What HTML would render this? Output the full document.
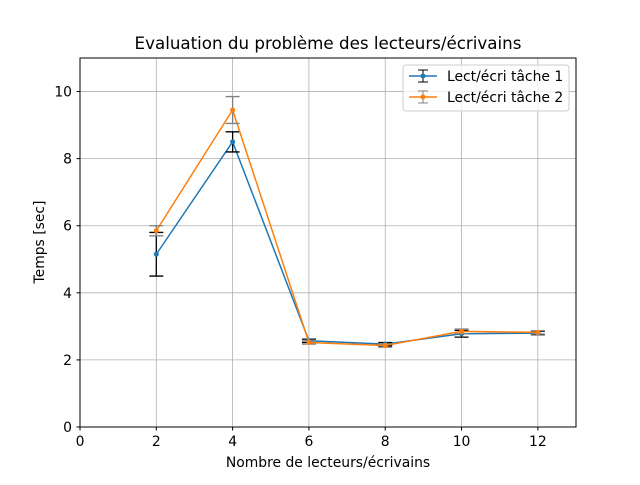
<!DOCTYPE html>
<html><head><meta charset="utf-8"><style>
body{margin:0;background:#fff;}
svg{font-family:"DejaVu Sans","Liberation Sans",sans-serif;}
</style></head><body>
<svg id="chart" width="640" height="480">
<rect width="640" height="480" fill="#fff"/>
<g id="grid"></g>
<g id="marks"></g>
<rect x="80" y="58" width="496" height="369" fill="none" stroke="#000" stroke-width="1"/>
<g id="ticks"></g>
<text x="328" y="49" text-anchor="middle" font-size="16.7">Evaluation du problème des lecteurs/écrivains</text>
<text x="328" y="467" text-anchor="middle" font-size="13.9">Nombre de lecteurs/écrivains</text>
<text x="44" y="242" text-anchor="middle" font-size="13.9" transform="rotate(-90 44 242)">Temps [sec]</text>
<g>
<rect x="403" y="65" width="166" height="46" rx="3" fill="#fff" fill-opacity="0.8" stroke="#ccc"/>
<g>
<line x1="409" y1="76" x2="437" y2="76" stroke="#1f77b4" stroke-width="1.5"/>
<line x1="423" y1="70" x2="423" y2="82" stroke="#000"/><line x1="418" y1="70" x2="428" y2="70" stroke="#000"/><line x1="418" y1="82" x2="428" y2="82" stroke="#000"/>
<circle cx="423" cy="76" r="2.5" fill="#1f77b4"/>
<text x="447" y="81" font-size="13.9">Lect/écri tâche 1</text></g>
<g>
<line x1="409" y1="97" x2="437" y2="97" stroke="#ff7f0e" stroke-width="1.5"/>
<line x1="423" y1="91" x2="423" y2="103" stroke="#808080"/><line x1="418" y1="91" x2="428" y2="91" stroke="#808080"/><line x1="418" y1="103" x2="428" y2="103" stroke="#808080"/>
<circle cx="423" cy="97" r="2.5" fill="#ff7f0e"/>
<text x="447" y="102" font-size="13.9">Lect/écri tâche 2</text></g>
</g>
</svg>
<script>
const categories=[2,4,6,8,10,12];
const series1=[5.15,8.5,2.57,2.47,2.78,2.8];
const err1=[0.65,0.3,0.05,0.05,0.1,0.05];
const series2=[5.85,9.45,2.52,2.43,2.85,2.82];
const err2=[0.15,0.4,0.05,0.05,0.07,0.05];
const xTicks=[0,2,4,6,8,10,12];
const yTicks=[0,2,4,6,8,10];
const NS="http://www.w3.org/2000/svg";
const X=v=>80+v*496/13, Y=v=>427-v*369/11;
function mk(p,t,a){const e=document.createElementNS(NS,t);for(const k in a)e.setAttribute(k,a[k]);p.appendChild(e);return e;}
const grid=document.getElementById('grid'),ticks=document.getElementById('ticks'),marks=document.getElementById('marks');
xTicks.forEach(v=>{const x=X(v);
 const g=mk(grid,'line',{x1:x,x2:x,y1:58,y2:427,stroke:'#b0b0b0','stroke-width':0.8});
 
 
 mk(ticks,'line',{x1:x,x2:x,y1:427,y2:430.5,stroke:'#000'});
 const t=mk(ticks,'text',{x:x,y:446,'text-anchor':'middle','font-size':13.9});t.textContent=v;
 
 });
yTicks.forEach(v=>{const y=Y(v);
 const g=mk(grid,'line',{x1:80,x2:576,y1:y,y2:y,stroke:'#b0b0b0','stroke-width':0.8});
 
 
 mk(ticks,'line',{x1:76.5,x2:80,y1:y,y2:y,stroke:'#000'});
 const t=mk(ticks,'text',{x:72,y:y+5,'text-anchor':'end','font-size':13.9});t.textContent=v;
 
 });
function series(vals,errs,col,ecol,name){
 const g=mk(marks,'g',{});
 
 
 mk(g,'polyline',{points:categories.map((c,i)=>X(c)+','+Y(vals[i])).join(' '),fill:'none',stroke:col,'stroke-width':1.5});
 categories.forEach((c,i)=>{const x=X(c),y1=Y(vals[i]-errs[i]),y2=Y(vals[i]+errs[i]);
  const e=mk(g,'path',{d:`M${x},${y1}V${y2}M${x-7},${y1}H${x+7}M${x-7},${y2}H${x+7}`,stroke:ecol,fill:'none','stroke-width':1.3});
  
  
  const p=mk(g,'circle',{cx:x,cy:Y(vals[i]),r:2.5,fill:col});
  
  });
}
series(series1,err1,'#1f77b4','#000','series-tache-1');
series(series2,err2,'#ff7f0e','#808080','series-tache-2');
</script>
</body></html>
